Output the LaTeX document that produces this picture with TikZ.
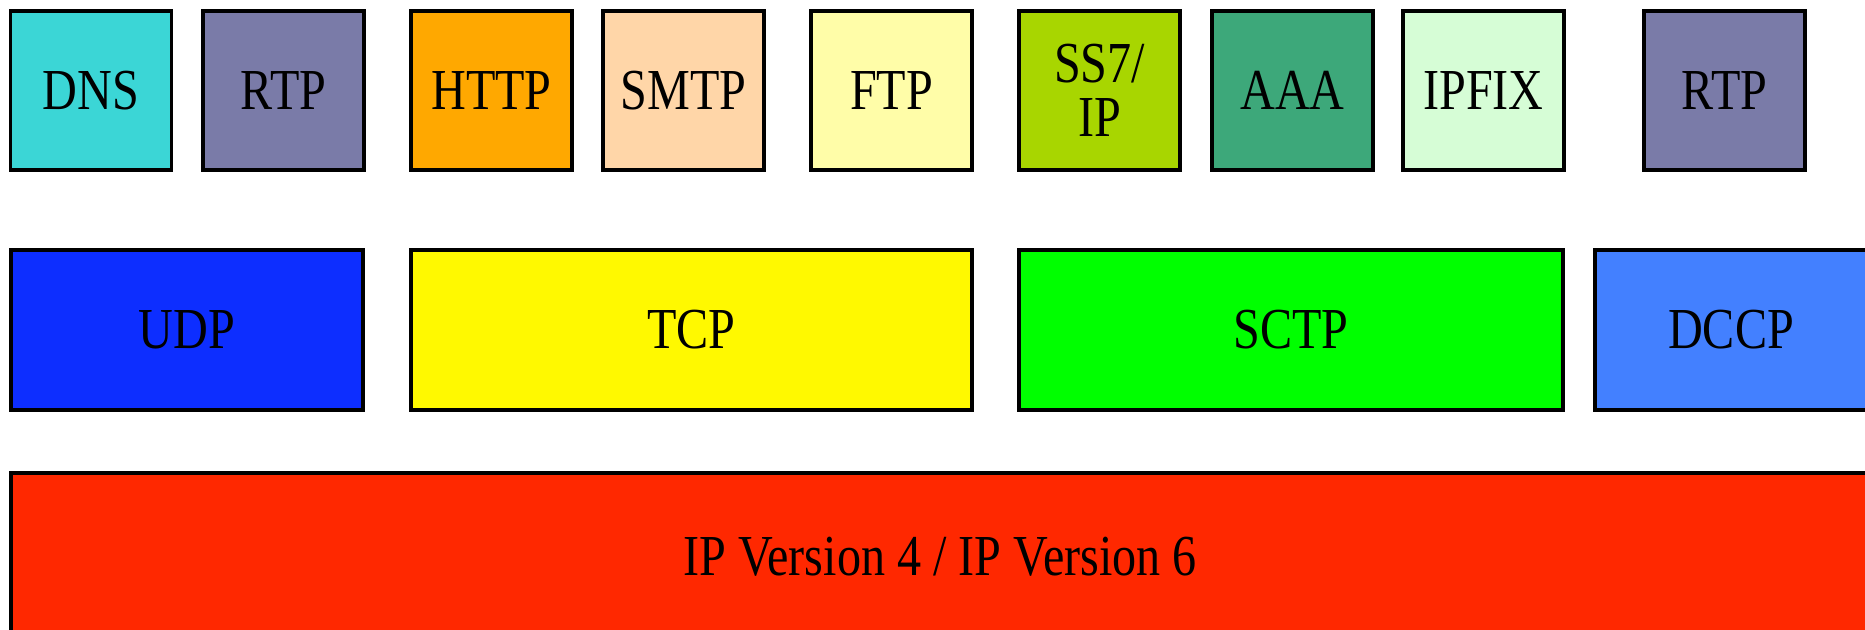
\documentclass[tikz,border=0pt]{standalone}
\usepackage{fontspec}
\setmainfont[FakeStretch=0.83]{Liberation Serif}
\definecolor{dnscol}{RGB}{59,214,214}
\definecolor{rtpcol}{RGB}{122,123,168}
\definecolor{httpcol}{RGB}{255,168,0}
\definecolor{smtpcol}{RGB}{255,214,168}
\definecolor{ftpcol}{RGB}{255,253,168}
\definecolor{sscol}{RGB}{168,214,0}
\definecolor{aaacol}{RGB}{61,168,122}
\definecolor{ipfixcol}{RGB}{214,253,214}
\definecolor{udpcol}{RGB}{13,46,255}
\definecolor{tcpcol}{RGB}{255,249,0}
\definecolor{sctpcol}{RGB}{0,255,0}
\definecolor{dccpcol}{RGB}{67,128,255}
\definecolor{ipcol}{RGB}{255,40,0}
\begin{document}
\begin{tikzpicture}[
  x=0.5pt, y=-0.5pt,
  proto/.style={rectangle, draw, line width=1.6pt, inner sep=0pt, align=center,
    font=\fontsize{29}{27}\selectfont, minimum height=79.5pt},
  app/.style={proto, minimum width=80.5pt},
  transport/.style={proto, minimum height=80pt}
]
  \clip (0,0) rectangle (1865,630);

  % Application layer (top)
  \node[app, fill=dnscol] (dns) at (91,90.5) {DNS};
  \node[app, fill=rtpcol] (rtp) at (283.5,90.5) {RTP};
  \node[app, fill=httpcol] (http) at (491.5,90.5) {HTTP};
  \node[app, fill=smtpcol] (smtp) at (683.5,90.5) {SMTP};
  \node[app, fill=ftpcol] (ftp) at (891.5,90.5) {FTP};
  \node[app, fill=sscol] (ss7) at (1099.5,90.5) {SS7/\\IP};
  \node[app, fill=aaacol] (aaa) at (1292.5,90.5) {AAA};
  \node[app, fill=ipfixcol] (ipfix) at (1483.5,90.5) {IPFIX};
  \node[app, fill=rtpcol] (rtpb) at (1724.5,90.5) {RTP};

  % Transport layer (middle)
  \node[transport, fill=udpcol, minimum width=176pt] (udp) at (187,330) {UDP};
  \node[transport, fill=tcpcol, minimum width=280.5pt] (tcp) at (691.5,330) {TCP};
  \node[transport, fill=sctpcol, minimum width=272pt] (sctp) at (1291,330) {SCTP};
  \node[transport, fill=dccpcol, minimum width=136pt] (dccp) at (1731,330) {DCCP};

  % Network layer (bottom)
  \node[proto, fill=ipcol, minimum width=929pt, minimum height=84pt] (ip) at (940,557) {IP Version 4 / IP Version 6};
\end{tikzpicture}
\end{document}
